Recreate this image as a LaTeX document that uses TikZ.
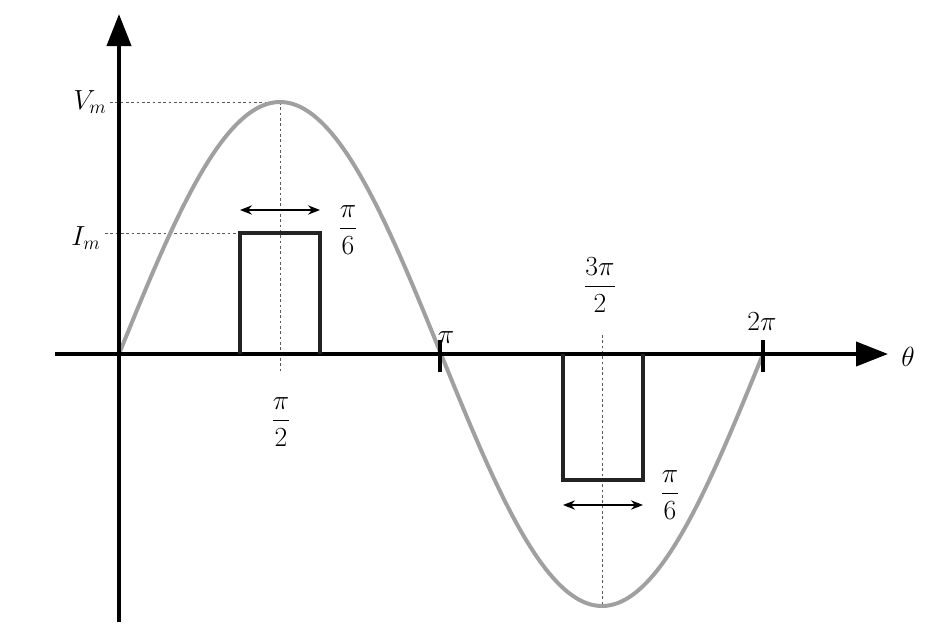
\documentclass[tikz,border=0pt]{standalone}
\usepackage{amsmath}
\usetikzlibrary{arrows.meta}
\tikzset{every picture/.style={line width=0.75pt}}
\tikzset{
  axis/.style={line width=3pt,-{Triangle[length=24pt,width=18pt]}},
  guide/.style={color={rgb, 255:red, 90; green, 90; blue, 90 },dash pattern={on 2pt off 2pt},line width=0.75pt},
  pulse/.style={line width=2.6pt,color={rgb, 255:red, 35; green, 35; blue, 35 }},
  span/.style={line width=1.2pt,{Stealth[length=9pt,width=7pt]}-{Stealth[length=9pt,width=7pt]}},
  lbl/.style={inner sep=0.75pt,font=\fontsize{22}{26}\selectfont}
}
\begin{document}
\begin{tikzpicture}[x=0.75pt,y=0.75pt,yscale=-1,xscale=1]
\useasboundingbox (0,0) rectangle (948,632);

% guides
\draw [guide] (110,102) -- (280,102) ;
\draw [guide] (280,102) -- (280,372) ;
\draw [guide] (105,233) -- (240,233) ;
\draw [guide] (602,335) -- (602,607) ;

% sine
\draw [color={rgb, 255:red, 160; green, 160; blue, 160 },line width=3pt] plot [domain=0:360,samples=120,smooth] ({119+1.78889*\x},{354-252*sin(\x)}) ;

% axes
\coordinate (O) at (119,354);
\coordinate (xs) at (55,354);
\coordinate (xe) at (888,354);
\coordinate (ys) at (119,622);
\coordinate (ye) at (119,14);
\draw [axis] (xs) -- (xe) ;
\draw [axis] (ys) -- (ye) ;
\draw [line width=3pt] (440,340) -- (440,372) (763,340) -- (763,372) ;

% pulses
\draw [pulse] (240,354) -- (240,233) -- (320,233) -- (320,354) ;
\draw [pulse] (563,354) -- (563,480) -- (643,480) -- (643,354) ;
\coordinate (a1) at (240,210);
\coordinate (b1) at (320,210);
\coordinate (a2) at (563,505);
\coordinate (b2) at (643,505);
\draw [span] (a1) -- (b1) ;
\draw [span] (a2) -- (b2) ;

% Text Node
\node (vm) [lbl,anchor=east] at (108,102) {$V_m$};
\node (im) [lbl,anchor=east] at (102,238) {$I_m$};
\node (p6a) [lbl] at (348,230) {$\dfrac{\pi}{6}$};
\node (p2) [lbl] at (281,422) {$\dfrac{\pi}{2}$};
\node (pi) [lbl] at (446,338) {$\pi$};
\node (p32) [lbl] at (600,285) {$\dfrac{3\pi}{2}$};
\node (tp) [lbl] at (762,322) {$2\pi$};
\node (th) [lbl] at (908,357) {$\theta$};
\node (p6b) [lbl] at (670,495) {$\dfrac{\pi}{6}$};
\end{tikzpicture}
\end{document}
